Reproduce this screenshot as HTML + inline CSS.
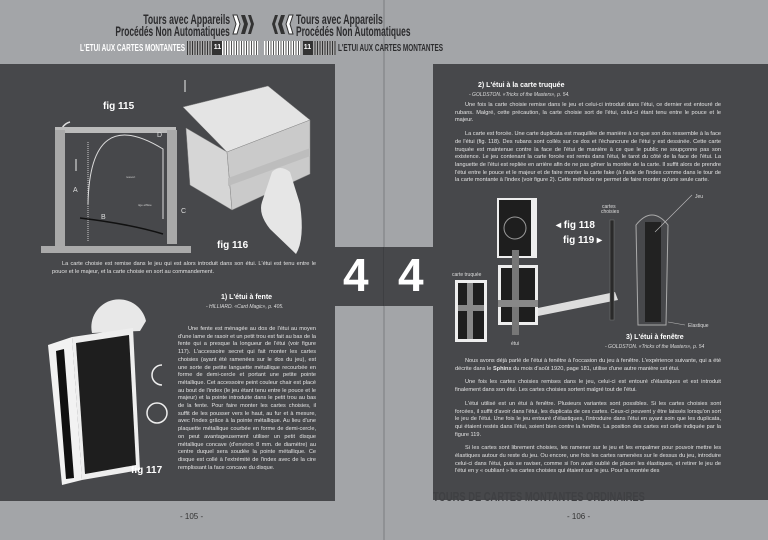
<!DOCTYPE html>
<html><head><meta charset="utf-8">
<style>
*{margin:0;padding:0;box-sizing:border-box}
body{width:768px;height:540px;background:#a3a5a8;position:relative;overflow:hidden;font-family:"Liberation Sans",sans-serif}
.abs{position:absolute}
.dark{background:#47484b;position:absolute}
.t{position:absolute;color:#e4e4e4;font-size:5.6px;line-height:7.7px;text-align:justify}
.t p{text-indent:10px;margin-bottom:6px}
.h{position:absolute;font-weight:bold;color:#fff;font-size:7px;white-space:nowrap}
.s{position:absolute;font-style:italic;color:#ddd;font-size:5px;white-space:nowrap}
.hdr{position:absolute;font-weight:bold;color:#2c2c2e;white-space:nowrap;transform-origin:0 0;line-height:1}
.hdrr{position:absolute;font-weight:bold;color:#2c2c2e;white-space:nowrap;transform-origin:100% 0;line-height:1;text-align:right}
.fig{position:absolute;color:#fff;font-weight:bold;font-size:10px;white-space:nowrap}
.pg{position:absolute;color:#333;font-size:8px;top:512px}
</style></head><body>
<div class="abs" style="left:383px;top:0;width:2px;height:540px;background:#8f9194"></div>
<div class="dark" style="left:0;top:64px;width:335px;height:437px"></div>
<div class="dark" style="left:433px;top:64px;width:335px;height:436px"></div>
<div class="dark" style="left:335px;top:247px;width:98px;height:59px"></div>
<div class="abs" style="left:383px;top:247px;width:1px;height:59px;background:#3e3f42"></div>
<div class="abs" style="left:343px;top:245px;color:#fff;font-weight:bold;font-size:46px;line-height:60px">4</div>
<div class="abs" style="left:398px;top:245px;color:#fff;font-weight:bold;font-size:46px;line-height:60px">4</div>

<!-- headers left -->
<div class="hdrr" style="right:538px;top:12px;font-size:14px;transform:scaleX(.62)">Tours avec Appareils</div>
<div class="hdrr" style="right:538px;top:24px;font-size:14px;transform:scaleX(.6)">Procédés Non Automatiques</div>
<svg class="abs" style="left:230px;top:13px" width="24" height="24"><path d="M3 2h4l3 9-3 10H3l3-10z" fill="#fff" stroke="#333"/><path d="M11 2h4l3 9-3 10h-4l3-10z" fill="#333"/><path d="M18 2h3l3 9-3 10h-3l3-10z" fill="#333"/></svg>
<div class="hdrr" style="right:583px;top:44px;font-size:10px;color:#fff;transform:scaleX(.64)">L'ETUI AUX CARTES MONTANTES</div>
<div class="abs" style="left:187px;top:41px;width:28px;height:14px;background:repeating-linear-gradient(90deg,#333 0 1px,#aaa 1px 2.5px)"></div>
<div class="abs" style="left:213px;top:41px;width:9px;height:14px;background:#333;color:#fff;font-size:7px;font-weight:bold;text-align:center;line-height:14px">11</div>
<div class="abs" style="left:222px;top:41px;width:36px;height:14px;background:repeating-linear-gradient(90deg,#fff 0 1.5px,#555 1.5px 2.5px)"></div>
<!-- headers right -->
<svg class="abs" style="left:272px;top:13px" width="24" height="24"><path d="M21 2h-4l-3 9 3 10h4l-3-10z" fill="#fff" stroke="#333"/><path d="M13 2h-4l-3 9 3 10h4l-3-10z" fill="#333"/><path d="M6 2H3L0 11l3 10h3L3 11z" fill="#333"/></svg>
<div class="hdr" style="left:296px;top:12px;font-size:14px;transform:scaleX(.62)">Tours avec Appareils</div>
<div class="hdr" style="left:296px;top:24px;font-size:14px;transform:scaleX(.6)">Procédés Non Automatiques</div>
<div class="abs" style="left:264px;top:41px;width:38px;height:14px;background:repeating-linear-gradient(90deg,#fff 0 1.5px,#555 1.5px 2.5px)"></div>
<div class="abs" style="left:303px;top:41px;width:9px;height:14px;background:#333;color:#fff;font-size:7px;font-weight:bold;text-align:center;line-height:14px">11</div>
<div class="abs" style="left:312px;top:41px;width:24px;height:14px;background:repeating-linear-gradient(90deg,#333 0 1px,#aaa 1px 2.5px)"></div>
<div class="hdr" style="left:338px;top:44px;font-size:10px;transform:scaleX(.64)">L'ETUI AUX CARTES MONTANTES</div>

<!-- fig 115 / 116 -->
<svg class="abs" style="left:0;top:64px" width="335" height="200">
<path d="M60 70q2-10 10-12" stroke="#ddd" fill="none" stroke-width="1.5"/>
<rect x="55" y="63" width="121" height="6" fill="#bbb"/>
<rect x="55" y="66" width="10" height="118" fill="#a9a9a9"/>
<rect x="167" y="66" width="10" height="114" fill="#a9a9a9"/>
<rect x="41" y="182" width="150" height="7" fill="#aaa"/>
<line x1="88" y1="78" x2="88" y2="178" stroke="#ccc" stroke-dasharray="1 1"/>
<path d="M88 140 Q90 40 163 85 L163 155" stroke="#ddd" fill="none"/>
<path d="M80 154 Q130 160 163 170" stroke="#111" fill="none" stroke-width="1.5"/>
<line x1="76" y1="107" x2="76" y2="95" stroke="#eee"/>
<text x="73" y="128" fill="#ddd" font-size="7">A</text><text x="101" y="155" fill="#ddd" font-size="7">B</text><text x="181" y="149" fill="#ddd" font-size="7">C</text><text x="157" y="73" fill="#ddd" font-size="7">D</text>
<text x="126" y="114" fill="#ccc" font-size="3">ressort</text><text x="138" y="142" fill="#ccc" font-size="3">tige effilée</text>
<polygon points="183,43 268,22 310,56 227,88" fill="#e4e4e4" stroke="#888" stroke-width=".5"/>
<polygon points="186,64 227,88 232,146 190,121" fill="#d6d6d6" stroke="#888" stroke-width=".5"/>
<polygon points="227,88 310,56 310,110 232,146" fill="#cacaca" stroke="#888" stroke-width=".5"/>
<rect x="228" y="112" width="82" height="8" fill="#bdbdbd" transform="skewY(-20) translate(0,85)"/>
<path d="M272 108 Q280 100 290 108 L300 140 Q305 175 296 190 L270 165 Q258 150 262 138 Z" fill="#e6e6e6"/>
<line x1="185" y1="28" x2="185" y2="16" stroke="#eee"/>
<text x="217" y="184" fill="#fff" font-size="10" font-weight="bold">fig 116</text>
<text x="103" y="45" fill="#fff" font-size="10" font-weight="bold">fig 115</text>
</svg>
<div class="t" style="left:52px;top:261px;width:264px"><p style="margin:0">La carte choisie est remise dans le jeu qui est alors introduit dans son étui. L'étui est tenu entre le pouce et le majeur, et la carte choisie en sort au commandement.</p></div>

<!-- fig 117 -->
<svg class="abs" style="left:0;top:285px" width="170" height="215">
<path d="M92 48 A27 27 0 0 1 146 36 L140 46 Z" fill="#e8e8e8"/>
<polygon points="48,60 72,52 82,195 62,200" fill="#f2f2f2"/>
<polygon points="72,52 133,43 140,185 82,195" fill="#eee"/>
<polygon points="76,58 129,50 136,180 85,189" fill="#1e1e1e"/>
<polygon points="56,66 64,64 74,193 66,194" fill="#111"/>
<path d="M162 80 a10 10 0 1 0 0 20" stroke="#eee" fill="none" stroke-width="1.5"/>
<circle cx="157" cy="128" r="10" stroke="#eee" fill="none" stroke-width="1.5"/>
</svg>
<div class="fig" style="left:131px;top:465px">fig 117</div>
<div class="h" style="left:221px;top:294px">1) L'étui à fente</div>
<div class="s" style="left:206px;top:304px">- HILLIARD. «Card Magic», p. 405.</div>
<div class="t" style="left:178px;top:326px;width:138px"><p>Une fente est ménagée au dos de l'étui au moyen d'une lame de rasoir et un petit trou est fait au bas de la fente qui a presque la longueur de l'étui (voir figure 117). L'accessoire secret qui fait monter les cartes choisies (ayant été ramenées sur le dos du jeu), est une sorte de petite languette métallique recourbée en forme de demi-cercle et portant une petite pointe métallique. Cet accessoire peint couleur chair est placé au bout de l'index (le jeu étant tenu entre le pouce et le majeur) et la pointe introduite dans le petit trou au bas de la fente. Pour faire monter les cartes choisies, il suffit de les pousser vers le haut, au fur et à mesure, avec l'index grâce à la pointe métallique. Au lieu d'une plaquette métallique courbée en forme de demi-cercle, on peut avantageusement utiliser un petit disque métallique concave (d'environ 8 mm. de diamètre) au centre duquel sera soudée la pointe métallique. Ce disque est collé à l'extrémité de l'index avec de la cire remplissant la face concave du disque.</p></div>
<div class="pg" style="left:180px">- 105 -</div>

<!-- right page -->
<div class="h" style="left:478px;top:82px">2) L'étui à la carte truquée</div>
<div class="s" style="left:469px;top:92px">- GOLDSTON. «Tricks of the Masters», p. 54.</div>
<div class="t" style="left:455px;top:102px;width:266px"><p>Une fois la carte choisie remise dans le jeu et celui-ci introduit dans l'étui, ce dernier est entouré de rubans. Malgré, cette précaution, la carte choisie sort de l'étui, celui-ci étant tenu entre le pouce et le majeur.</p><p>La carte est forcée. Une carte duplicata est maquillée de manière à ce que son dos ressemble à la face de l'étui (fig. 118). Des rubans sont collés sur ce dos et l'échancrure de l'étui y est dessinée. Cette carte truquée est maintenue contre la face de l'étui de manière à ce que le public ne soupçonne pas son existence. Le jeu contenant la carte forcée est remis dans l'étui, le tarot du côté de la face de l'étui. La languette de l'étui est repliée en arrière afin de ne pas gêner la montée de la carte. Il suffit alors de prendre l'étui entre le pouce et le majeur et de faire monter la carte fake (à l'aide de l'index comme dans le tour de la carte montante à l'index (voir figure 2). Cette méthode ne permet de faire monter qu'une seule carte.</p></div>
<svg class="abs" style="left:440px;top:190px" width="290" height="160">
<rect x="57" y="8" width="40" height="60" fill="#eee"/><rect x="59" y="10" width="32" height="56" fill="#1e1e1e"/><circle cx="75" cy="38" r="11" fill="none" stroke="#999"/>
<rect x="58" y="75" width="40" height="60" fill="#eee"/><rect x="61" y="78" width="34" height="54" fill="#1e1e1e"/>
<rect x="72" y="60" width="7" height="85" fill="#777"/><rect x="58" y="110" width="40" height="7" fill="#888"/>
<polygon points="98,118 175,102 178,110 98,126" fill="#ddd"/>
<rect x="15" y="90" width="32" height="62" fill="#eee"/><rect x="18" y="93" width="26" height="56" fill="#1e1e1e"/><rect x="27" y="93" width="6" height="56" fill="#888"/><rect x="18" y="115" width="26" height="6" fill="#888"/>
<rect x="170" y="30" width="4" height="100" fill="#2a2a2a" stroke="#777" stroke-width=".5"/>
<path d="M196 35 Q212 15 228 35 L226 135 H198 Z" fill="none" stroke="#aaa"/>
<rect x="205" y="32" width="16" height="100" fill="#222"/>
<line x1="215" y1="42" x2="252" y2="5" stroke="#bbb" stroke-width=".6"/>
<line x1="228" y1="132" x2="245" y2="135" stroke="#bbb" stroke-width=".6"/>
<text x="255" y="8" fill="#ddd" font-size="5">Jeu</text><text x="248" y="137" fill="#ddd" font-size="5">Elastique</text>
<text x="162" y="18" fill="#ddd" font-size="5">cartes</text><text x="161" y="23" fill="#ddd" font-size="5">choisies</text>
<text x="12" y="86" fill="#ddd" font-size="5">carte truquée</text><text x="71" y="155" fill="#ddd" font-size="5">étui</text>
</svg>
<div class="fig" style="left:556px;top:220px">◂ fig 118</div>
<div class="fig" style="left:563px;top:235px">fig 119 ▸</div>
<div class="h" style="left:626px;top:334px">3) L'étui à fenêtre</div>
<div class="s" style="left:605px;top:344px">- GOLDSTON. «Tricks of the Masters», p. 54</div>
<div class="t" style="left:455px;top:358px;width:266px"><p>Nous avons déjà parlé de l'étui à fenêtre à l'occasion du jeu à fenêtre. L'expérience suivante, qui a été décrite dans le <b>Sphinx</b> du mois d'août 1920, page 181, utilise d'une autre manière cet étui.</p><p>Une fois les cartes choisies remises dans le jeu, celui-ci est entouré d'élastiques et est introduit finalement dans son étui. Les cartes choisies sortent malgré tout de l'étui.</p><p>L'étui utilisé est un étui à fenêtre. Plusieurs variantes sont possibles. Si les cartes choisies sont forcées, il suffit d'avoir dans l'étui, les duplicata de ces cartes. Ceux-ci peuvent y être laissés lorsqu'on sort le jeu de l'étui. Une fois le jeu entouré d'élastiques, l'introduire dans l'étui en ayant soin que les duplicata, qui étaient restés dans l'étui, soient bien contre la fenêtre. La position des cartes est celle indiquée par la figure 119.</p><p>Si les cartes sont librement choisies, les ramener sur le jeu et les empalmer pour pouvoir mettre les élastiques autour du reste du jeu. Ou encore, une fois les cartes ramenées sur le dessus du jeu, introduire celui-ci dans l'étui, puis se raviser, comme si l'on avait oublié de placer les élastiques, et retirer le jeu de l'étui en y « oubliant » les cartes choisies qui étaient sur le jeu. Pour la montée des</p></div>
<div class="hdr" style="left:433px;top:490px;font-size:13px;color:#3f4043;transform:scaleX(.72)">TOURS DE CARTES MONTANTES ORDINAIRES</div>
<div class="pg" style="left:567px">- 106 -</div>
</body></html>
